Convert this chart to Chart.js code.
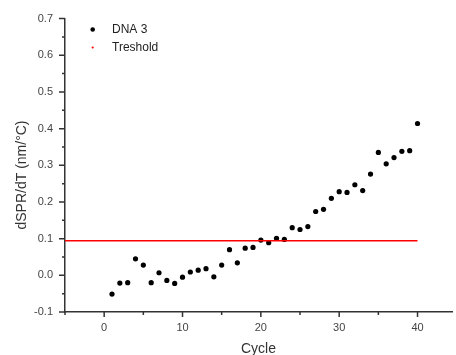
<!DOCTYPE html>
<html>
<head>
<meta charset="utf-8">
<script src="https://cdn.jsdelivr.net/npm/chart.js@4.4.0/dist/chart.umd.min.js"></script>
<style>
html, body { margin: 0; padding: 0; background: #fff; }
#wrap { width: 456px; height: 355px; }
</style>
</head>
<body>
<div id="wrap"><canvas id="dnaChart"></canvas></div>
<script>
// values
var cycles = [1, 2, 3, 4, 5, 6, 7, 8, 9, 10,
              11, 12, 13, 14, 15, 16, 17, 18, 19, 20,
              21, 22, 23, 24, 25, 26, 27, 28, 29, 30,
              31, 32, 33, 34, 35, 36, 37, 38, 39, 40];
var dnaValues = [-0.051, -0.021, -0.020, 0.045, 0.028, -0.020, 0.007, -0.014, -0.022, -0.005,
                 0.009, 0.014, 0.018, -0.004, 0.028, 0.070, 0.034, 0.074, 0.076, 0.096,
                 0.089, 0.101, 0.098, 0.130, 0.125, 0.133, 0.174, 0.180, 0.210, 0.228,
                 0.226, 0.247, 0.231, 0.276, 0.335, 0.304, 0.321, 0.338, 0.340, 0.414];
var thresholdX = [-5, 40];
var thresholdY = [0.094, 0.094];
var seriesNames = ['DNA 3', 'Treshold'];
var xLabelTicks = [0, 10, 20, 30, 40];
var yLabelTicks = [-0.1, 0.0, 0.1, 0.2, 0.3, 0.4, 0.5, 0.6, 0.7];
var xTitle = 'Cycle';
var yTitle = 'dSPR/dT (nm/°C)';

function toPoints(xs, ys) {
    return xs.map(function (x, i) { return { x: x, y: ys[i] }; });
}
function isLabelled(list, v) {
    return list.some(function (t) { return Math.abs(t - v) < 1e-9; });
}

// Origin-style outward ticks, short for minor ones
var tickMarks = {
    id: 'tickMarks',
    afterDraw: function (chart) {
        var ctx = chart.ctx;
        var xs = chart.scales.x, ys = chart.scales.y;
        ctx.save();
        ctx.strokeStyle = '#333';
        ctx.lineWidth = 1.5;
        ctx.beginPath();
        xs.ticks.forEach(function (t) {
            var px = xs.getPixelForValue(t.value);
            var len = isLabelled(xLabelTicks, t.value) ? 5 : 3;
            ctx.moveTo(px, xs.top);
            ctx.lineTo(px, xs.top + len);
        });
        ys.ticks.forEach(function (t) {
            var py = ys.getPixelForValue(t.value);
            var len = isLabelled(yLabelTicks, t.value) ? 6 : 3;
            ctx.moveTo(ys.right, py);
            ctx.lineTo(ys.right - len, py);
        });
        ctx.stroke();

        // y axis title
        ctx.translate(22, 175);
        ctx.rotate(-Math.PI / 2);
        ctx.font = '14px "Liberation Sans", Arial, sans-serif';
        ctx.fillStyle = '#333';
        ctx.textAlign = 'center';
        ctx.textBaseline = 'middle';
        ctx.fillText(yTitle, 0, 0);
        ctx.restore();
    }
};

// legend in the upper left corner of the plot
var cornerLegend = {
    id: 'cornerLegend',
    afterDraw: function (chart) {
        var ctx = chart.ctx;
        ctx.save();
        ctx.font = '12px "Liberation Sans", Arial, sans-serif';
        ctx.textBaseline = 'middle';
        ctx.textAlign = 'left';
        chart.data.datasets.forEach(function (ds, i) {
            var y = 29.5 + i * 18;
            ctx.fillStyle = i === 0 ? ds.backgroundColor : ds.borderColor;
            ctx.beginPath();
            ctx.arc(92.7, y, i === 0 ? 2.3 : 1.1, 0, Math.PI * 2);
            ctx.fill();
            ctx.fillStyle = '#222';
            ctx.fillText(ds.label, 112, y + 0.5);
        });
        ctx.restore();
    }
};

var ctx = document.getElementById('dnaChart').getContext('2d');
var dnaChart = new Chart(ctx, {
    type: 'scatter',
    data: {
        datasets: [{
            label: seriesNames[0],
            data: toPoints(cycles, dnaValues),
            backgroundColor: '#000',
            borderWidth: 0,
            pointRadius: 2.6,
            showLine: false,
            order: 1
        }, {
            label: seriesNames[1],
            data: toPoints(thresholdX, thresholdY),
            borderColor: '#ff0000',
            backgroundColor: '#ff0000',
            borderWidth: 1.5,
            pointRadius: 0,
            showLine: true,
            order: 0
        }]
    },
    options: {
        responsive: true,
        maintainAspectRatio: false,
        animation: false,
        events: [],
        layout: { padding: { top: 18, right: 0, left: 0, bottom: 0 } },
        plugins: {
            legend: { display: false },
            tooltip: { enabled: false }
        },
        scales: {
            x: {
                type: 'linear',
                min: -5,
                max: 44.4,
                afterFit: function (s) { s.height = 43; },
                grid: { display: false, drawTicks: false },
                border: { display: true, color: '#333', width: 1.5 },
                ticks: {
                    stepSize: 5,
                    includeBounds: false,
                    autoSkip: false,
                    maxRotation: 0,
                    padding: 9,
                    color: '#444',
                    font: { family: '"Liberation Sans", Arial, sans-serif', size: 11 },
                    callback: function (v) { return isLabelled(xLabelTicks, v) ? String(v) : ''; }
                },
                title: {
                    display: true,
                    text: xTitle,
                    color: '#333',
                    padding: { top: 0, bottom: 0 },
                    font: { family: '"Liberation Sans", Arial, sans-serif', size: 14, lineHeight: 0.9 }
                }
            },
            y: {
                type: 'linear',
                min: -0.1,
                max: 0.7,
                afterFit: function (s) { s.width = 65; },
                grid: { display: false, drawTicks: false },
                border: { display: true, color: '#333', width: 1.5 },
                ticks: {
                    stepSize: 0.05,
                    autoSkip: false,
                    padding: 12,
                    color: '#444',
                    font: { family: '"Liberation Sans", Arial, sans-serif', size: 11 },
                    callback: function (v) {
                        if (!isLabelled(yLabelTicks, v)) return '';
                        return Math.abs(v) < 1e-9 ? '0.0' : v.toFixed(1);
                    }
                },
                title: { display: false }
            }
        }
    },
    plugins: [tickMarks, cornerLegend]
});
</script>
</body>
</html>
